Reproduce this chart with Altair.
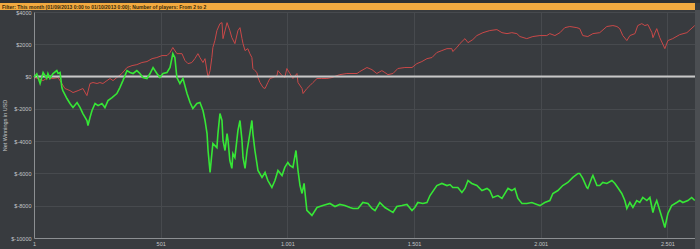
import altair as alt
import pandas as pd

# ---- data ----
green_hands = [1, 12, 25, 37, 51, 56, 64, 76, 91, 96, 104, 111, 115, 131, 143, 155, 171, 183, 194, 210,
               214, 222, 230, 242, 254, 269, 281, 293, 309, 328, 340, 352, 368, 380, 392, 407, 419, 431,
               447, 459, 471, 486, 498, 510, 526, 538, 549, 557, 565, 577, 589, 605, 617, 628, 644, 656,
               668, 676, 684, 688, 696, 703, 707, 723, 727, 735, 743, 747, 755, 763, 767, 774, 782, 786,
               794, 806, 814, 822, 826, 834, 842, 853, 861, 865, 873, 881, 885, 901, 913, 924, 940, 952,
               964, 980, 991, 1003, 1011, 1023, 1035, 1043, 1051, 1059, 1067, 1074, 1078, 1098, 1118,
               1141, 1169, 1189, 1208, 1228, 1248, 1260, 1280, 1299, 1319, 1335, 1347, 1366, 1386, 1406,
               1418, 1433, 1453, 1473, 1493, 1504, 1516, 1536, 1552, 1564, 1591, 1611, 1631, 1643, 1654,
               1674, 1690, 1702, 1714, 1729, 1749, 1769, 1789, 1800, 1812, 1832, 1848, 1872, 1887, 1899,
               1911, 1927, 1946, 1966, 1986, 1998, 2017, 2037, 2049, 2069, 2088, 2108, 2128, 2148, 2155,
               2167, 2183, 2187, 2203, 2207, 2223, 2234, 2246, 2262, 2282, 2294, 2305, 2321, 2333, 2341,
               2353, 2365, 2380, 2392, 2404, 2420, 2432, 2444, 2451, 2459, 2471, 2483, 2491, 2503, 2518,
               2538, 2550, 2562, 2582, 2597, 2609]
green_values = [-40, 170, -430, 250, -120, 190, -120, 190, 370, 190, 250, -680, -870, -1360, -1670, -1920,
                -1610, -1920, -2290, -2720, -3030, -2540, -2100, -1670, -1800, -1670, -1920, -1490, -1300,
                -1050, -680, -250, 370, 250, 190, 370, 190, -60, -120, 190, 560, 190, -60, 190, 250, 560,
                1420, 1180, -60, -430, -120, -1050, -1610, -1980, -1670, -1610, -2100, -2720, -3530, -4580,
                -5940, -4770, -4150, -4400, -3530, -2290, -2720, -3960, -4580, -3530, -3960, -5200, -5690,
                -4770, -5010, -3340, -2720, -3960, -5010, -5690, -4580, -3530, -2720, -3530, -4580, -5390,
                -5820, -6250, -5940, -6440, -6870, -6440, -5820, -6130, -5630, -5320, -5510, -5630, -4580,
                -5820, -6750, -7240, -6620, -7680, -8290, -8600, -8110, -7990, -7860, -8050, -7920, -7990,
                -8110, -8170, -8170, -7800, -7860, -8170, -8300, -7800, -8110, -8300, -8420, -8050, -7990,
                -7920, -8300, -8110, -7800, -7860, -7800, -7370, -6750, -6620, -6750, -6690, -6870, -6870,
                -7180, -6930, -6440, -6620, -6750, -7060, -6930, -7060, -7490, -7370, -7550, -6930, -7060,
                -6930, -7550, -7860, -7860, -7800, -7920, -7990, -7800, -7680, -7240, -7060, -6750, -6560,
                -6250, -6000, -6000, -6310, -6870, -6930, -6250, -6130, -6750, -6750, -6560, -6620, -6440,
                -6620, -6870, -7240, -7680, -8170, -7800, -8110, -7680, -7800, -7490, -7680, -7490, -8420,
                -7990, -7680, -8300, -8910, -9350, -8480, -7990, -7800, -7680, -7800, -7680, -7490, -7680]

red_hands = [1, 17, 37, 56, 76, 96, 111, 123, 143, 155, 175, 194, 210, 222, 234, 250, 261, 273, 289, 301,
             313, 328, 348, 368, 388, 407, 427, 447, 467, 486, 506, 526, 538, 549, 565, 585, 597, 609, 624,
             636, 648, 656, 668, 676, 688, 696, 703, 707, 715, 723, 735, 743, 747, 763, 774, 782, 794, 806,
             814, 822, 826, 834, 845, 853, 861, 865, 873, 881, 885, 893, 905, 913, 924, 932, 944, 960, 964,
             980, 991, 999, 1011, 1023, 1039, 1043, 1059, 1063, 1078, 1090, 1102, 1118, 1137, 1157, 1177,
             1197, 1208, 1236, 1276, 1287, 1315, 1335, 1354, 1374, 1386, 1398, 1418, 1437, 1465, 1493,
             1512, 1532, 1552, 1572, 1591, 1611, 1631, 1650, 1654, 1670, 1682, 1702, 1714, 1733, 1749,
             1773, 1800, 1828, 1848, 1868, 1887, 1907, 1919, 1946, 1970, 1998, 2025, 2037, 2057, 2077,
             2096, 2116, 2144, 2155, 2167, 2187, 2207, 2234, 2262, 2286, 2302, 2313, 2325, 2341, 2353,
             2373, 2384, 2400, 2412, 2424, 2440, 2444, 2459, 2471, 2491, 2503, 2522, 2550, 2578, 2609]
red_values = [-60, -120, -250, -60, -120, -60, -430, -740, -870, -990, -870, -740, -1180, -430, -370, -430,
              -370, -430, -250, -120, -250, -60, 190, 560, 680, 740, 870, 930, 1110, 1180, 1300, 1300, 1490,
              1800, 1420, 1420, 990, 800, 870, 1110, 1420, 1180, 870, 1110, -60, 370, 1180, 1800, 2230, 2850,
              3280, 3340, 2350, 3340, 2850, 2410, 2040, 2850, 3030, 2350, 2040, 1610, 1730, 1420, 1180, 500,
              370, 250, -60, -370, -680, -740, -370, -120, -60, 60, 370, 60, -60, 500, 190, -120, 190, -370,
              -740, -1050, -740, -560, -370, -120, -120, -120, -60, 60, 120, 190, 190, 310, 560, 430, 190,
              370, 250, 120, 190, 500, 560, 560, 800, 930, 1110, 1180, 1490, 1610, 1730, 1730, 1550, 1800,
              2040, 2350, 2100, 2290, 2540, 2720, 2850, 2910, 2720, 2660, 2720, 2660, 2480, 2350, 2480, 2540,
              2540, 2660, 2540, 2720, 3030, 3100, 3030, 2970, 2540, 2480, 2660, 2720, 3100, 3160, 3100, 2970,
              2540, 2230, 2540, 2660, 3160, 3280, 3160, 3220, 2720, 2410, 2970, 2410, 1730, 2230, 2350, 2600,
              2720, 3160]

x_ticks = [1, 501, 1001, 1501, 2001, 2501]
y_ticks = [-10000, -8000, -6000, -4000, -2000, 0, 2000, 4000]
series_names = ["Red", "Green"]
series_colors = ["#c94848", "#36e636"]
filter_text = "Filter: This month (01/09/2013 0:00 to 01/10/2013 0:00); Number of players: From 2 to 2"
y_title = "Net Winnings in USD"

green_df = pd.DataFrame({"hand": green_hands, "value": green_values, "series": "Green"})
red_df = pd.DataFrame({"hand": red_hands, "value": red_values, "series": "Red"})

FONT = "Liberation Sans"
LABEL = "#c4c6c8"

x_scale = alt.Scale(domain=[1, 2610], nice=False, zero=False)
y_scale = alt.Scale(domain=[-10000, 4000], nice=False)
x_axis = alt.Axis(values=x_ticks, title=None, tickCount=6,
                  labelExpr="replace(format(datum.value, ','), ',', '.')",
                  grid=True, gridColor="#474a4e", tickSize=0, labelPadding=3,
                  labelFontSize=5.5, labelColor=LABEL, labelFont=FONT,
                  domainColor="#8c8f92", labelFlush=False, labelOverlap=False)
y_axis = alt.Axis(values=y_ticks, title=y_title, tickCount=8, labelExpr="'$' + datum.value",
                  grid=True, gridColor="#474a4e", tickSize=0, labelPadding=3,
                  labelFontSize=5.5, labelColor=LABEL, labelFont=FONT,
                  labelOverlap=False, labelFlush=False,
                  titleFont=FONT, titleFontSize=5.5, titleFontWeight="normal",
                  titleColor=LABEL, titlePadding=3, domainColor="#8c8f92")
color_enc = alt.Color("series:N", scale=alt.Scale(domain=series_names, range=series_colors), legend=None)


def enc(chart):
    return chart.encode(x=alt.X("hand:Q", scale=x_scale, axis=x_axis),
                        y=alt.Y("value:Q", scale=y_scale, axis=y_axis),
                        color=color_enc)


red_line = enc(alt.Chart(red_df).mark_line(strokeWidth=1))
green_line = enc(alt.Chart(green_df).mark_line(strokeWidth=1.6))

zero = alt.Chart(pd.DataFrame({"value": [0]})).mark_rule(color="#c8c8c8", strokeWidth=2).encode(
    y=alt.Y("value:Q", scale=y_scale, axis=y_axis))

one = alt.Data(values=[{"k": 1}])
top_strip = alt.Chart(one).mark_rect(color="#2e3033").encode(
    x=alt.value(-34), x2=alt.value(666), y=alt.value(-12), y2=alt.value(-9))
bar = alt.Chart(one).mark_rect(color="#f2aa40").encode(
    x=alt.value(-34), x2=alt.value(661), y=alt.value(-9), y2=alt.value(-2))
right_strip = alt.Chart(one).mark_rect(color="#4b4e52").encode(
    x=alt.value(661), x2=alt.value(666), y=alt.value(-2), y2=alt.value(237))
ftext = alt.Chart(one).mark_text(text=filter_text, align="left", baseline="middle",
                                 font=FONT, fontSize=5, fontWeight="bold", color="#3a2a08").encode(
    x=alt.value(-32), y=alt.value(-5.3))

chart = alt.layer(red_line, zero, green_line, top_strip, bar, right_strip, ftext).properties(
    width=661, height=226,
    padding={"left": 34, "top": 12, "right": 5, "bottom": 11},
    autosize=alt.AutoSizeParams(type="none"),
    background="#383b3f",
).configure_view(stroke="#55585b")

chart.save("out.html", embed_options={"renderer": "svg", "actions": False})
